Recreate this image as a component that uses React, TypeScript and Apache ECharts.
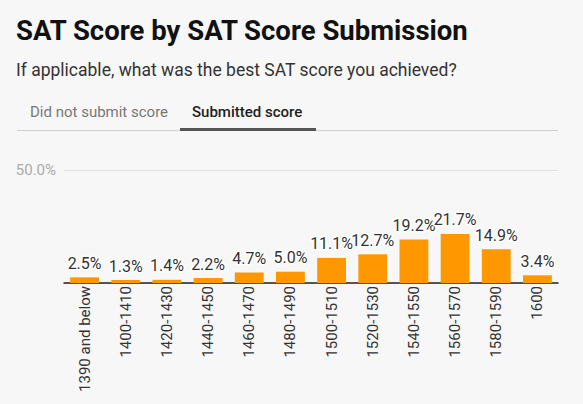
import { useEffect, useRef } from 'react';
import * as echarts from 'echarts';

const categories = [
  '1390 and below', '1400-1410', '1420-1430', '1440-1450', '1460-1470', '1480-1490',
  '1500-1510', '1520-1530', '1540-1550', '1560-1570', '1580-1590', '1600',
];
const shares = [2.5, 1.3, 1.4, 2.2, 4.7, 5.0, 11.1, 12.7, 19.2, 21.7, 14.9, 3.4];
const tabs = ['Did not submit score', 'Submitted score'];
const heading = 'SAT Score by SAT Score Submission';
const question = 'If applicable, what was the best SAT score you achieved?';

const FONT = 'Roboto, "Noto Sans", sans-serif';

export default function App() {
  const ref = useRef<HTMLDivElement | null>(null);

  useEffect(() => {
    document.body.style.margin = '0';
    if (!ref.current) return;
    const chart = echarts.init(ref.current, undefined, { renderer: 'svg' });
    chart.setOption({
      animation: false,
      backgroundColor: '#f7f7f7',
      textStyle: { fontFamily: FONT },
      graphic: [
        {
          type: 'text', x: 16, y: 30,
          style: { text: heading, fontSize: 27.5, fontWeight: 'bold', fill: '#111', fontFamily: FONT, verticalAlign: 'middle' },
        },
        {
          type: 'text', x: 16, y: 70,
          style: { text: question, fontSize: 17.5, fill: '#333', fontFamily: FONT, verticalAlign: 'middle' },
        },
        {
          type: 'text', x: 30, y: 112,
          style: { text: tabs[0], fontSize: 15, fill: '#777', fontFamily: FONT, verticalAlign: 'middle' },
        },
        {
          type: 'text', x: 192, y: 112,
          style: { text: tabs[1], fontSize: 15, fontWeight: 500, fill: '#222', fontFamily: FONT, verticalAlign: 'middle' },
        },
        { type: 'rect', shape: { x: 17, y: 130, width: 541, height: 1 }, style: { fill: '#cfcfcf' } },
        { type: 'rect', shape: { x: 180, y: 128, width: 136, height: 3 }, style: { fill: '#555' } },
      ],
      grid: { left: 64, right: 25, top: 170, bottom: 121 },
      xAxis: {
        type: 'category',
        data: categories,
        axisLine: { lineStyle: { color: '#222', width: 1.5 } },
        axisTick: { show: false },
        axisLabel: { rotate: 90, color: '#333', fontSize: 15, margin: 3, interval: 0 },
      },
      yAxis: {
        type: 'value',
        min: 0,
        max: 50,
        interval: 50,
        axisLine: { show: false },
        axisTick: { show: false },
        splitLine: { lineStyle: { color: '#e2e2e2' } },
        axisLabel: {
          color: '#aaa',
          fontSize: 15,
          margin: 8,
          formatter: (v: number) => (v === 0 ? '' : `${v.toFixed(1)}%`),
        },
      },
      series: [
        {
          type: 'bar',
          data: shares,
          barWidth: '70%',
          itemStyle: { color: '#ff9800' },
          label: {
            show: true,
            position: 'top',
            distance: 6,
            fontSize: 16,
            color: '#333',
            textBorderColor: '#fff',
            textBorderWidth: 3,
            formatter: (p: { value: number }) => `${p.value.toFixed(1)}%`,
          },
        },
      ],
    });
    return () => chart.dispose();
  }, []);

  return <div ref={ref} style={{ width: 583, height: 404 }} />;
}
